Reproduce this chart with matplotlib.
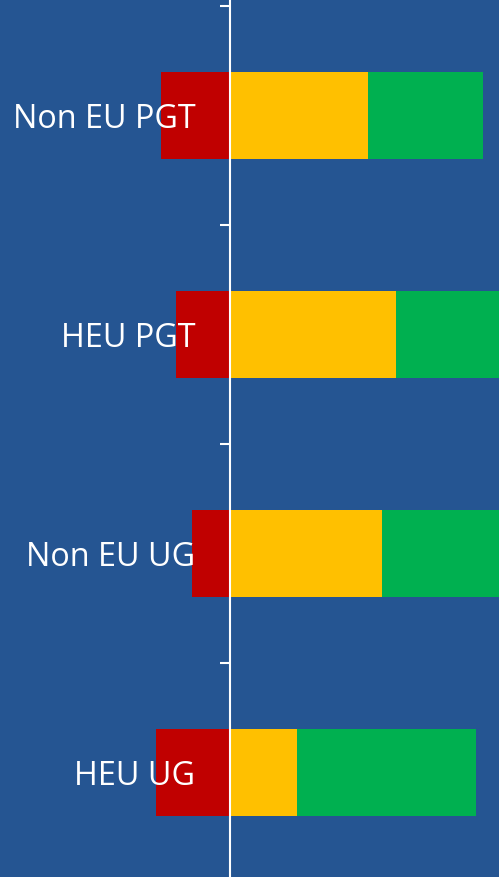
import matplotlib.pyplot as plt
import numpy as np

# categories bottom -> top
categories = ['HEU UG', 'Non EU UG', 'HEU PGT', 'Non EU PGT']
negative = [23, 12, 17, 21.5]     # red, drawn to the left of zero
neutral = [21, 47.5, 52, 43]      # yellow
positive = [56, 40.5, 34, 36]     # green

bg = '#255592'
fig = plt.figure(figsize=(4.99, 8.77), dpi=100, facecolor=bg)
ax = fig.add_axes([0, 0, 1, 1], facecolor=bg)

y = np.arange(len(categories))
neg = -np.array(negative)
ax.barh(y, neg, height=0.4, color='#C00000')
ax.barh(y, neutral, height=0.4, color='#FFC000')
ax.barh(y, positive, left=neutral, height=0.4, color='#00B050')

ax.set_xlim(-71.9, 84.1)
ax.set_ylim(-0.477, 3.527)

for s in ['top', 'right', 'bottom']:
    ax.spines[s].set_visible(False)
ax.spines['left'].set_position(('data', 0))
ax.spines['left'].set_color('white')
ax.spines['left'].set_linewidth(1.5)
ax.spines['left'].set_zorder(3)
ax.set_xticks([])

# category boundaries (the one below the last bar falls off the picture)
ax.set_yticks([0.5, 1.5, 2.5, 3.5])
ax.set_yticklabels([])
ax.tick_params(axis='y', which='major', length=7.5, width=1.5, color='white')
ax.set_yticks(y, minor=True)
ax.set_yticklabels(categories, minor=True)
ax.tick_params(axis='y', which='minor', length=0, pad=25, labelcolor='white',
               labelsize=23.3)
for lbl in ax.get_yticklabels(minor=True):
    lbl.set_fontfamily('Open Sans')

fig.savefig('out.png', facecolor=bg)
